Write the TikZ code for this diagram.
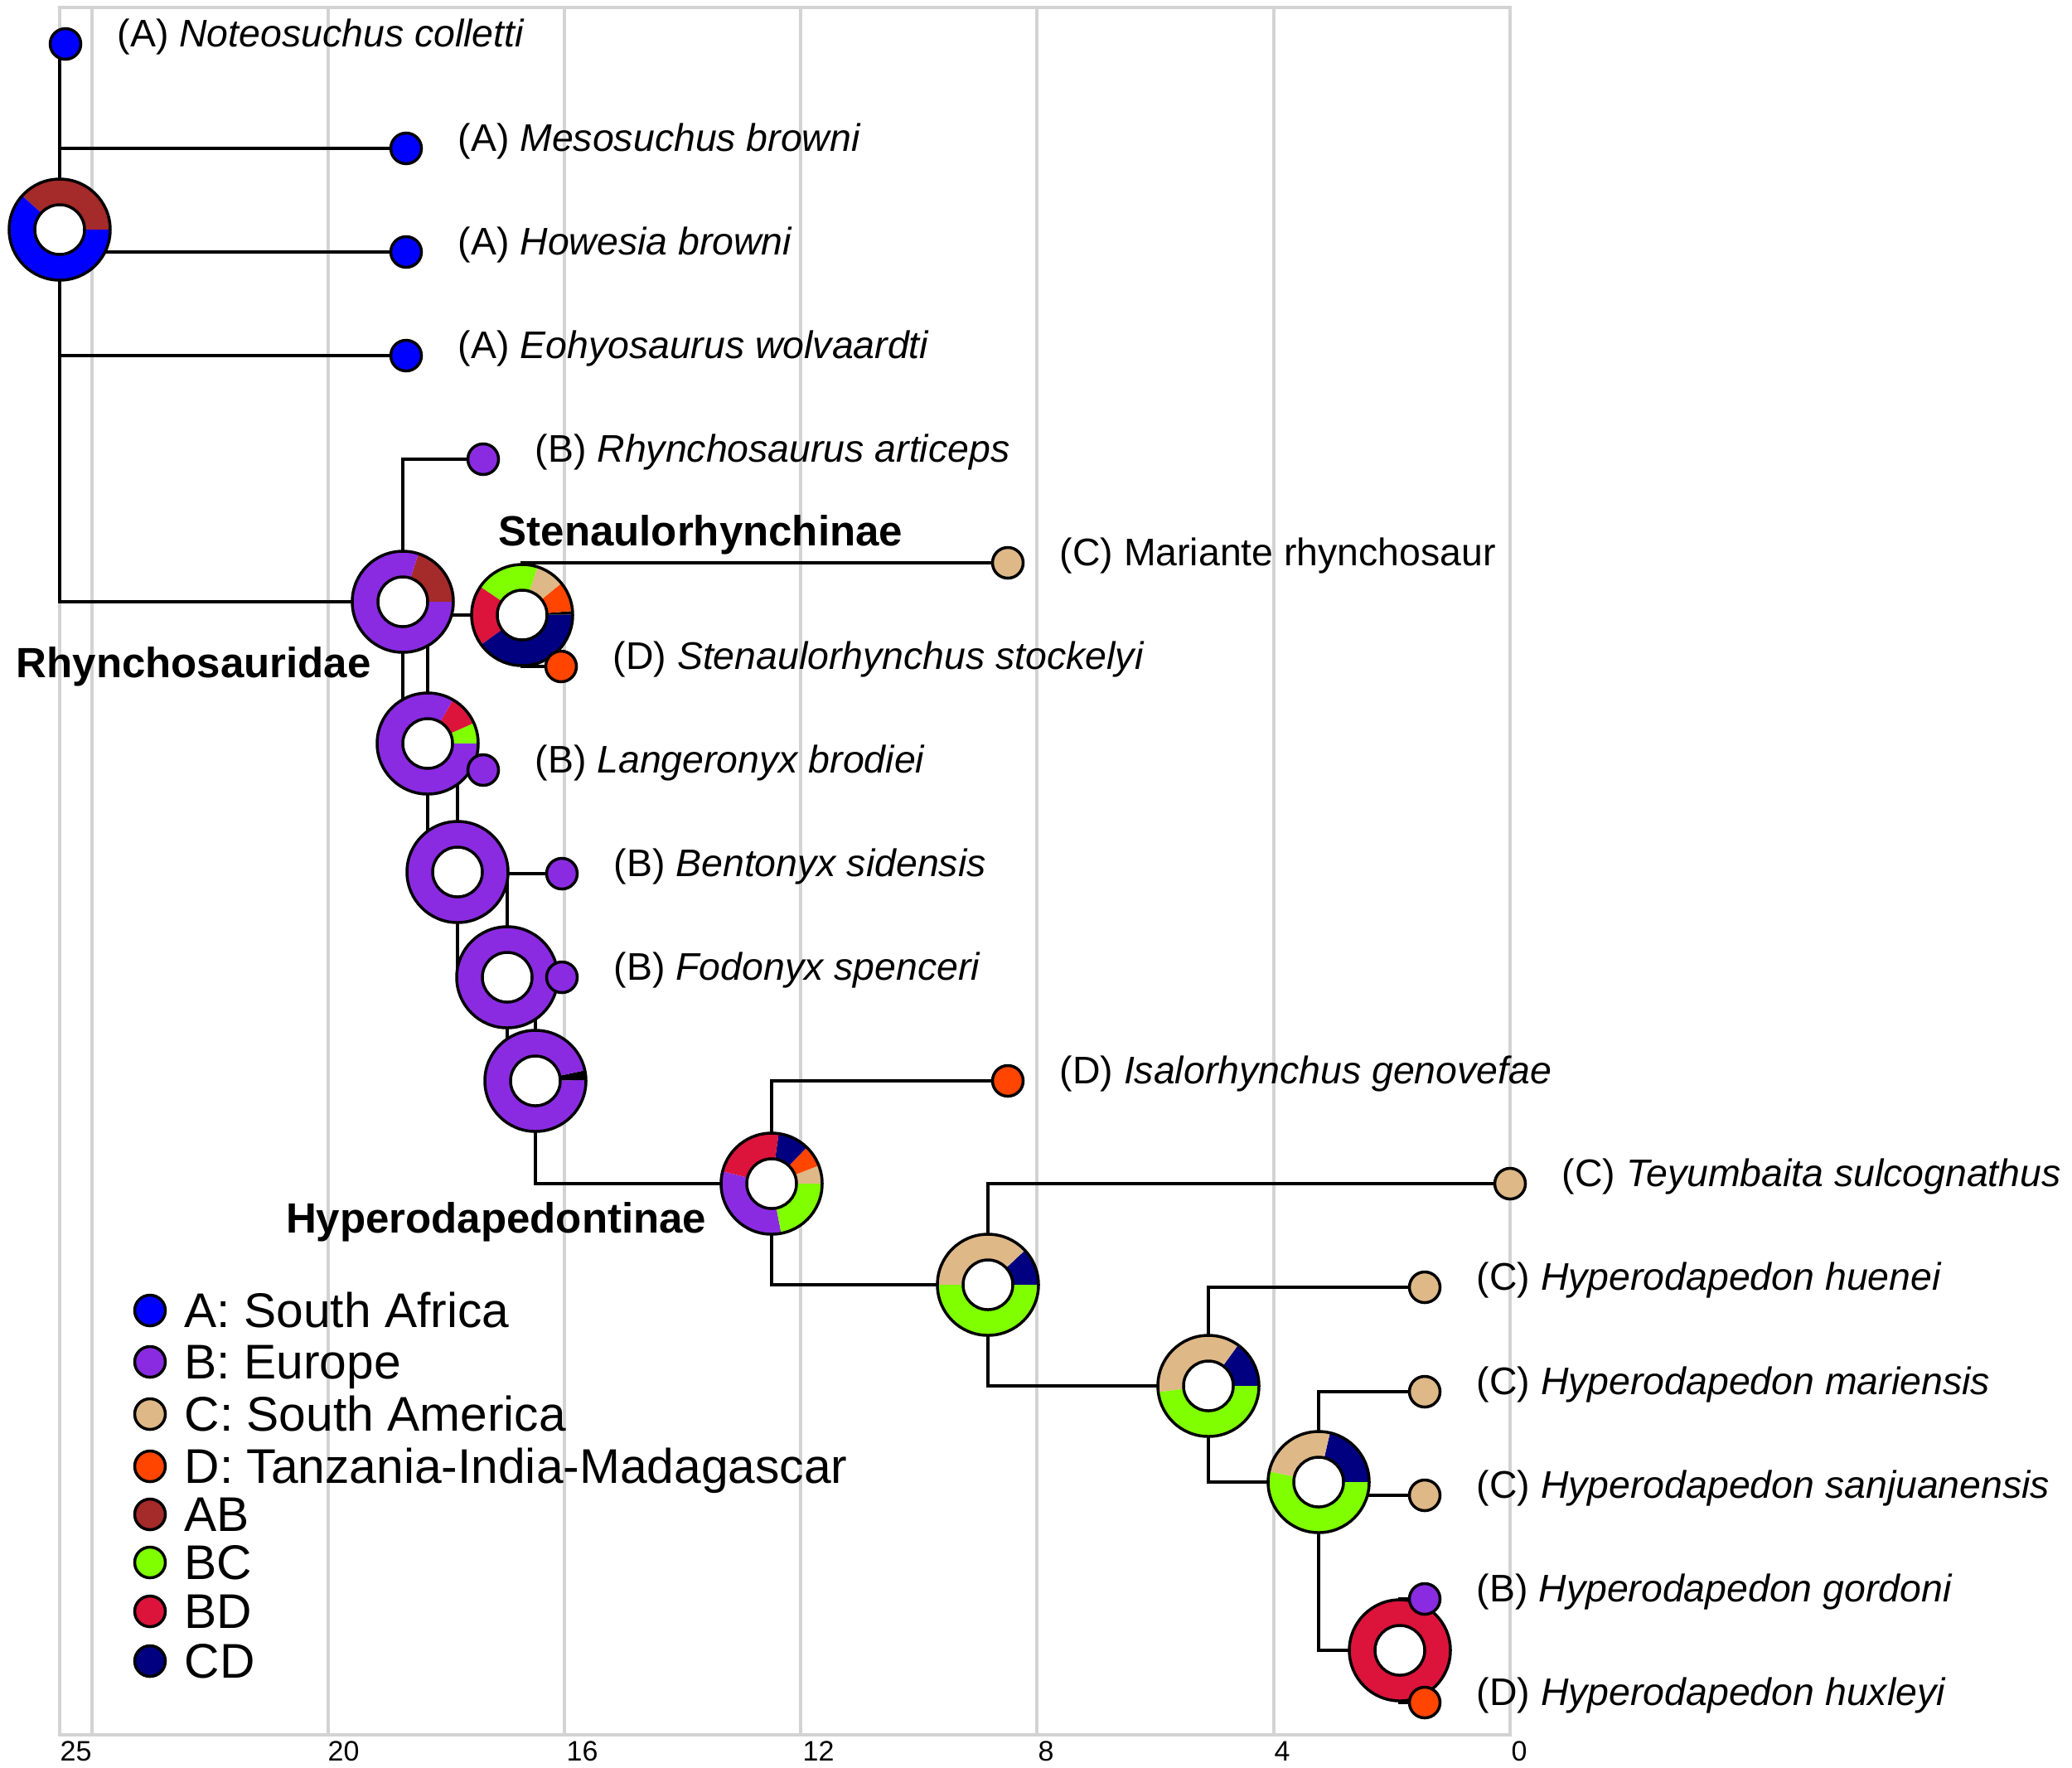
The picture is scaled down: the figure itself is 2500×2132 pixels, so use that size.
\documentclass[tikz,border=0pt]{standalone}
\usepackage{fontspec}
\setmainfont{Liberation Sans}
\usetikzlibrary{calc}
\definecolor{colA}{RGB}{0,0,255}
\definecolor{colB}{RGB}{138,43,226}
\definecolor{colC}{RGB}{222,184,135}
\definecolor{colD}{RGB}{255,69,0}
\definecolor{colAB}{RGB}{165,42,42}
\definecolor{colBC}{RGB}{127,255,0}
\definecolor{colBD}{RGB}{220,20,60}
\definecolor{colCD}{RGB}{0,0,128}
\definecolor{gridc}{RGB}{211,211,211}
\pgfdeclarelayer{gridlayer}
\pgfdeclarelayer{linelayer}
\pgfdeclarelayer{ringlayer}
\pgfsetlayers{gridlayer,linelayer,ringlayer,main}
\tikzset{
 branch/.style={line width=0.033cm, draw=black},
 tipdot/.style={circle, draw=black, line width=0.035cm, minimum size=0.37cm, inner sep=0pt, outer sep=0pt},
 lab/.style={anchor=base west, inner sep=0pt, font=\fontsize{13.2}{15}\selectfont},
 grp/.style={inner sep=0pt, font=\fontsize{14.5}{17}\selectfont\bfseries},
 leg/.style={anchor=base west, inner sep=0pt, font=\fontsize{16.7}{19}\selectfont},
 ticklab/.style={anchor=base west, inner sep=0pt, font=\fontsize{9.67}{11}\selectfont},
 gridl/.style={draw=gridc, line width=0.035cm},
 ringline/.style={draw=black, line width=0.035cm},
}
\newcommand\myring[2]{%
 \begin{scope}[shift={(#1)},yscale=-1]
  \foreach \sa/\sb/\sc in {#2} {
   \fill[\sc] (\sa:61) arc[start angle=\sa, end angle=\sb, radius=61] -- (\sb:30) arc[start angle=\sb, end angle=\sa, radius=30] -- cycle;
  }
  \draw[ringline] (0,0) circle[radius=61];
  \draw[ringline, fill=white] (0,0) circle[radius=30];
 \end{scope}}
\begin{document}
\begin{tikzpicture}[x=0.01cm, y=-0.01cm]
\useasboundingbox (0,0) rectangle (2500,2132);
% grid and frame
\begin{pgfonlayer}{gridlayer}
\foreach \gx in {111,396,681,966,1251,1537} \draw[gridl] (\gx,9) -- (\gx,2093);
\draw[gridl] (72,9) rectangle (1822,2093);
\end{pgfonlayer}
\node[ticklab] (k25) at (72,2124) {25};
\node[ticklab] (k20) at (395,2124) {20};
\node[ticklab] (k16) at (683,2124) {16};
\node[ticklab] (k12) at (968,2124) {12};
\node[ticklab] (k8) at (1252,2124) {8};
\node[ticklab] (k4) at (1537,2124) {4};
\node[ticklab] (k0) at (1823,2124) {0};
% internal nodes
\coordinate (r) at (72,277);
\coordinate (rtop) at (72,53);
\coordinate (n2) at (486,726);
\coordinate (n3) at (630,742);
\coordinate (n4) at (516,897);
\coordinate (n5) at (552,1052);
\coordinate (n6) at (612,1179);
\coordinate (n7) at (646,1304);
\coordinate (n8) at (931,1428);
\coordinate (n9) at (1192,1550);
\coordinate (n10) at (1458,1672);
\coordinate (n11) at (1591,1788);
\coordinate (n12) at (1689,1991);
% tips
\node[tipdot, fill=colA] (t1) at (79,53) {};
\node[tipdot, fill=colA] (t2) at (490,179) {};
\node[tipdot, fill=colA] (t3) at (490,304) {};
\node[tipdot, fill=colA] (t4) at (490,429) {};
\node[tipdot, fill=colB] (t5) at (583,554) {};
\node[tipdot, fill=colC] (t6) at (1216,679) {};
\node[tipdot, fill=colD] (t7) at (677,804) {};
\node[tipdot, fill=colB] (t8) at (583,929) {};
\node[tipdot, fill=colB] (t9) at (678,1054) {};
\node[tipdot, fill=colB] (t10) at (678,1179) {};
\node[tipdot, fill=colD] (t11) at (1216,1304) {};
\node[tipdot, fill=colC] (t12) at (1822,1428) {};
\node[tipdot, fill=colC] (t13) at (1719,1553) {};
\node[tipdot, fill=colC] (t14) at (1719,1679) {};
\node[tipdot, fill=colC] (t15) at (1719,1804) {};
\node[tipdot, fill=colB] (t16) at (1719,1929) {};
\node[tipdot, fill=colD] (t17) at (1719,2054) {};
% branches
\begin{pgfonlayer}{linelayer}
\draw[branch] (rtop) -- (t1);
\draw[branch] (rtop) |- (n2);
\draw[branch] (r) |- (t2);
\draw[branch] (r) |- (t3);
\draw[branch] (r) |- (t4);
\draw[branch] (n2) |- (t5);
\draw[branch] (n2) |- (n4);
\draw[branch] (n4) |- (n3);
\draw[branch] (n4) |- (n5);
\draw[branch] (n3) |- (t6);
\draw[branch] (n3) |- (t7);
\draw[branch] (n5) |- (t8);
\draw[branch] (n5) |- (n6);
\draw[branch] (n6) |- (t9);
\draw[branch] (n6) |- (n7);
\draw[branch] (n7) |- (t10);
\draw[branch] (n7) |- (n8);
\draw[branch] (n8) |- (t11);
\draw[branch] (n8) |- (n9);
\draw[branch] (n9) |- (t12);
\draw[branch] (n9) |- (n10);
\draw[branch] (n10) |- (t13);
\draw[branch] (n10) |- (n11);
\draw[branch] (n11) |- (t14);
\draw[branch] (n11) |- (t15);
\draw[branch] (n11) |- (n12);
\draw[branch] (n12) |- (t16);
\draw[branch] (n12) |- (t17);
\end{pgfonlayer}
% rings
\begin{pgfonlayer}{ringlayer}
\myring{r}{0/138/colAB, 138/360/colA}
\myring{n2}{0/72/colAB, 72/360/colB}
\myring{n4}{0/24/colBC, 24/60/colBD, 60/360/colB}
\myring{n3}{0/0.6/colCD, 0.6/4.6/black, 4.6/39/colD, 39/72.5/colC, 72.5/146/colBC, 146/216/colBD, 216/360/colCD}
\myring{n5}{0/360/colB}
\myring{n6}{0/360/colB}
\myring{n7}{0/1/colB, 1/12/black, 12/360/colB}
\myring{n8}{0/21/colC, 21/46/colD, 46/82/colCD, 82/166/colBD, 166/281/colB, 281/360/colBC}
\myring{n9}{0/43/colCD, 43/180/colC, 180/360/colBC}
\myring{n10}{0/54/colCD, 54/187/colC, 187/360/colBC}
\myring{n11}{0/77/colCD, 77/168/colC, 168/360/colBC}
\myring{n12}{0/360/colBD}
\end{pgfonlayer}
% labels
\node[lab] (l1) at ($(t1)+(62,3.5)$) {(A) \textit{Noteosuchus colletti}};
\node[lab] (l2) at ($(t2)+(62,3.5)$) {(A) \textit{Mesosuchus browni}};
\node[lab] (l3) at ($(t3)+(62,3.5)$) {(A) \textit{Howesia browni}};
\node[lab] (l4) at ($(t4)+(62,3.5)$) {(A) \textit{Eohyosaurus wolvaardti}};
\node[lab] (l5) at ($(t5)+(62,3.5)$) {(B) \textit{Rhynchosaurus articeps}};
\node[lab] (l6) at ($(t6)+(62,3.5)$) {(C) Mariante rhynchosaur};
\node[lab] (l7) at ($(t7)+(62,3.5)$) {(D) \textit{Stenaulorhynchus stockelyi}};
\node[lab] (l8) at ($(t8)+(62,3.5)$) {(B) \textit{Langeronyx brodiei}};
\node[lab] (l9) at ($(t9)+(62,3.5)$) {(B) \textit{Bentonyx sidensis}};
\node[lab] (l10) at ($(t10)+(62,3.5)$) {(B) \textit{Fodonyx spenceri}};
\node[lab] (l11) at ($(t11)+(62,3.5)$) {(D) \textit{Isalorhynchus genovefae}};
\node[lab] (l12) at ($(t12)+(62,3.5)$) {(C) \textit{Teyumbaita sulcognathus}};
\node[lab] (l13) at ($(t13)+(62,3.5)$) {(C) \textit{Hyperodapedon huenei}};
\node[lab] (l14) at ($(t14)+(62,3.5)$) {(C) \textit{Hyperodapedon mariensis}};
\node[lab] (l15) at ($(t15)+(62,3.5)$) {(C) \textit{Hyperodapedon sanjuanensis}};
\node[lab] (l16) at ($(t16)+(62,3.5)$) {(B) \textit{Hyperodapedon gordoni}};
\node[lab] (l17) at ($(t17)+(62,3.5)$) {(D) \textit{Hyperodapedon huxleyi}};
% group names
\node[grp, anchor=base west] (g1) at (19,817) {Rhynchosauridae};
\node[grp, anchor=base west] (g2) at (601,658) {Stenaulorhynchinae};
\node[grp, anchor=base east] (g3) at (853,1487) {Hyperodapedontinae};
% legend
\foreach \ly/\lc/\lt [count=\li] in {1581/colA/A: South Africa, 1643/colB/B: Europe, 1706/colC/C: South America, 1769/colD/D: Tanzania-India-Madagascar, 1827/colAB/AB, 1885/colBC/BC, 1944/colBD/BD, 2004/colCD/CD} {
 \node[tipdot, fill=\lc] (lg\li) at (181,\ly) {};
 \node[leg] (lt\li) at (222,\ly+20.8) {\lt};
}
\end{tikzpicture}
\end{document}
